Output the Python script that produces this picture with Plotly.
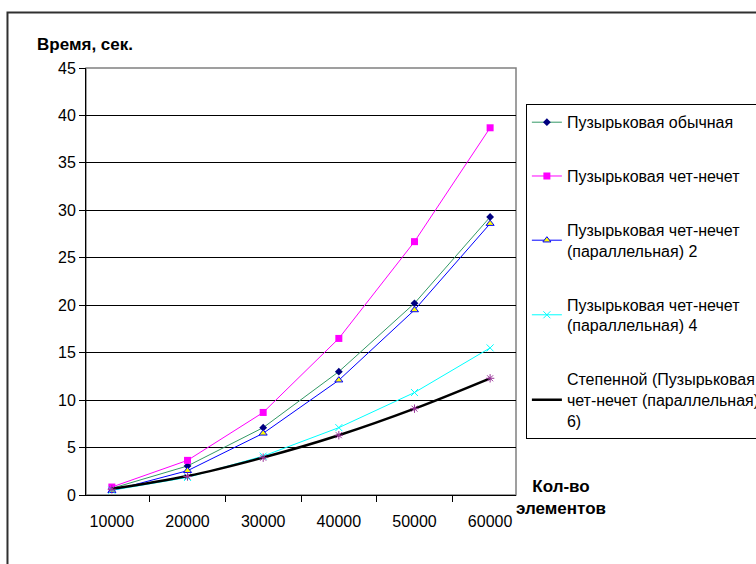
import plotly.graph_objects as go

categories = ["10000", "20000", "30000", "40000", "50000", "60000"]
bubble_plain = [0.7, 3.06, 7.1, 13.0, 20.2, 29.3]
bubble_oddeven = [0.84, 3.65, 8.7, 16.5, 26.7, 38.7]
bubble_par2 = [0.45, 2.56, 6.5, 12.1, 19.5, 28.6]
bubble_par4 = [0.5, 1.85, 4.1, 7.1, 10.8, 15.5]
bubble_par6 = [0.6, 1.95, 3.93, 6.3, 9.1, 12.3]
trend_par6 = [0.65, 2.0, 3.95, 6.3, 9.1, 12.3]
y_ticks = [0, 5, 10, 15, 20, 25, 30, 35, 40, 45]

FONT = "Liberation Sans, Arial, sans-serif"

fig = go.Figure()
fig.add_trace(go.Scatter(
    x=categories, y=bubble_plain, name="Пузырьковая обычная", mode="lines+markers",
    line=dict(color="#339966", width=1),
    marker=dict(symbol="diamond", size=6, color="#000080"),
    legendgroup="a"))
fig.add_trace(go.Scatter(
    x=categories, y=bubble_oddeven, name="Пузырьковая чет-нечет", mode="lines+markers",
    line=dict(color="#FF00FF", width=1),
    marker=dict(symbol="square", size=7, color="#FF00FF"),
    legendgroup="b"))
fig.add_trace(go.Scatter(
    x=categories, y=bubble_par2, name="Пузырьковая чет-нечет<br>(параллельная) 2", mode="lines+markers",
    line=dict(color="#0000FF", width=1),
    marker=dict(symbol="triangle-up", size=7, color="#FFFF00", line=dict(color="#0000FF", width=1)),
    legendgroup="c"))
fig.add_trace(go.Scatter(
    x=categories, y=bubble_par4, name="Пузырьковая чет-нечет<br>(параллельная) 4", mode="lines+markers",
    line=dict(color="#00FFFF", width=1),
    marker=dict(symbol="x-thin-open", size=7, color="#00FFFF", line=dict(color="#00FFFF", width=1)),
    legendgroup="d"))
fig.add_trace(go.Scatter(
    x=categories, y=trend_par6, name="Степенной (Пузырьковая<br>чет-нечет (параллельная)<br>6)", mode="lines",
    line=dict(color="#000000", width=2.5, shape="spline"),
    legendgroup="e"))
fig.add_trace(go.Scatter(
    x=categories, y=bubble_par6, name="Пузырьковая чет-нечет (параллельная) 6", mode="markers",
    marker=dict(symbol="asterisk-open", size=7, color="#993399", line=dict(color="#993399", width=1)),
    showlegend=False))

fig.update_layout(
    width=756, height=564,
    margin=dict(l=86, r=240, t=68, b=69, autoexpand=False),
    paper_bgcolor="white", plot_bgcolor="white",
    font=dict(family=FONT, size=16, color="black"),
    showlegend=True,
    legend=dict(
        x=1.023, y=0.915, xanchor="left", yanchor="top",
        bordercolor="black", borderwidth=1, bgcolor="white",
        font=dict(size=16), tracegroupgap=30, traceorder="grouped",
        itemwidth=30),
    xaxis=dict(
        type="category", categoryorder="array", categoryarray=categories,
        showline=True, linecolor="black", linewidth=1,
        ticks="outside", tickson="boundaries", ticklen=6, tickcolor="black",
        showgrid=False, ticklabelstandoff=12, zeroline=False,
        tickfont=dict(size=16)),
    yaxis=dict(
        range=[0, 45], tickvals=y_ticks,
        showline=True, linecolor="black", linewidth=1,
        ticks="outside", ticklen=6, tickcolor="black",
        showgrid=True, gridcolor="black", gridwidth=1, zeroline=False,
        tickfont=dict(size=16)),
    shapes=[
        dict(type="rect", xref="x domain", yref="y domain", x0=0, x1=1, y0=0, y1=1,
             line=dict(color="#808080", width=1.5), layer="below"),
        dict(type="rect", xref="paper", yref="paper", x0=-0.1826, x1=2, y0=-1, y1=1.13,
             line=dict(color="#303030", width=2), layer="below"),
    ],
    annotations=[
        dict(text="<b>Время, сек.</b>", xref="paper", yref="paper", x=-0.1186, y=1.054,
             xanchor="left", yanchor="middle", showarrow=False, font=dict(size=17)),
        dict(text="<b>Кол-во<br>элементов</b>", xref="paper", yref="paper", x=1.105, y=-0.006,
             xanchor="center", yanchor="middle", showarrow=False, font=dict(size=17)),
    ],
)

fig.write_html("out.html")
